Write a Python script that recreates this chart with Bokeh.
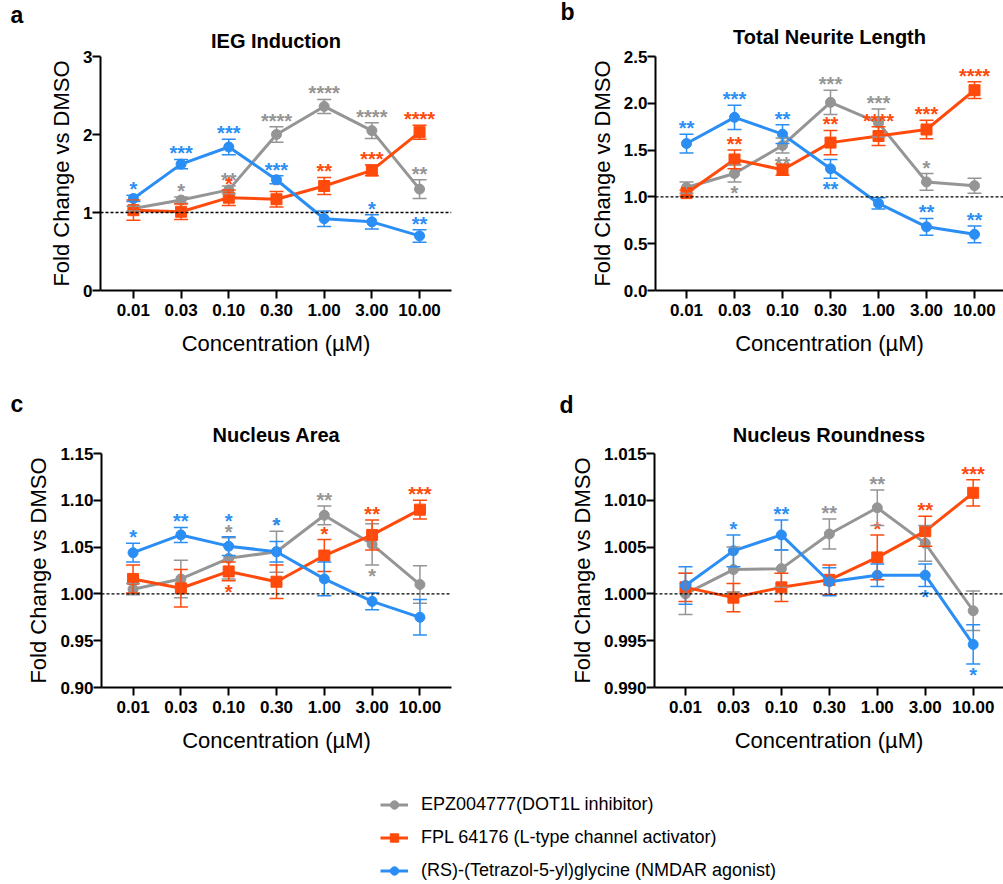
from bokeh.plotting import figure
from bokeh.models import (Range1d, FixedTicker, Whisker, TeeHead, ColumnDataSource,
                          Span, Title, Legend, LegendItem, PrintfTickFormatter)
from bokeh.layouts import column, row
from bokeh.embed import file_html
from bokeh.resources import INLINE
from bokeh.core.properties import value

# ---------------- data ----------------
concentrations = ["0.01", "0.03", "0.10", "0.30", "1.00", "3.00", "10.00"]

series_names = ["EPZ004777(DOT1L inhibitor)",
                "FPL 64176 (L-type channel activator)",
                "(RS)-(Tetrazol-5-yl)glycine (NMDAR agonist)"]

# a: IEG Induction
ieg_epz = [1.05, 1.16, 1.29, 2.00, 2.36, 2.05, 1.30]
ieg_epz_err = [0.03, 0.04, 0.05, 0.10, 0.09, 0.10, 0.12]
ieg_epz_sig = ["", "*", "**", "****", "****", "****", "**"]
ieg_fpl = [1.03, 1.01, 1.19, 1.17, 1.34, 1.54, 2.03]
ieg_fpl_err = [0.13, 0.10, 0.10, 0.10, 0.11, 0.07, 0.09]
ieg_fpl_sig = ["", "", "*", "*", "**", "***", "****"]
ieg_tzg = [1.18, 1.62, 1.84, 1.42, 0.92, 0.88, 0.70]
ieg_tzg_err = [0.04, 0.06, 0.10, 0.05, 0.10, 0.09, 0.08]
ieg_tzg_sig = ["*", "***", "***", "***", "", "*", "**"]

# b: Total Neurite Length
ntl_epz = [1.10, 1.25, 1.55, 2.01, 1.79, 1.16, 1.12]
ntl_epz_err = [0.06, 0.09, 0.08, 0.13, 0.15, 0.09, 0.08]
ntl_epz_sig = ["", "*", "**", "***", "***", "*", ""]
ntl_fpl = [1.04, 1.40, 1.29, 1.58, 1.65, 1.72, 2.14]
ntl_fpl_err = [0.03, 0.10, 0.06, 0.13, 0.10, 0.10, 0.09]
ntl_fpl_sig = ["", "**", "", "**", "****", "***", "****"]
ntl_tzg = [1.57, 1.85, 1.67, 1.30, 0.93, 0.68, 0.60]
ntl_tzg_err = [0.10, 0.13, 0.10, 0.10, 0.06, 0.09, 0.09]
ntl_tzg_sig = ["**", "***", "**", "**", "", "**", "**"]

# c: Nucleus Area
area_epz = [1.005, 1.016, 1.038, 1.045, 1.084, 1.053, 1.010]
area_epz_err = [0.006, 0.020, 0.022, 0.022, 0.010, 0.022, 0.020]
area_epz_sig = ["", "", "*", "*", "**", "*", ""]
area_fpl = [1.016, 1.006, 1.024, 1.013, 1.041, 1.063, 1.090]
area_fpl_err = [0.015, 0.020, 0.010, 0.018, 0.017, 0.016, 0.010]
area_fpl_sig = ["", "", "*", "", "*", "**", "***"]
area_tzg = [1.044, 1.063, 1.051, 1.045, 1.016, 0.992, 0.975]
area_tzg_err = [0.010, 0.008, 0.010, 0.011, 0.018, 0.009, 0.019]
area_tzg_sig = ["*", "**", "*", "*", "", "", ""]

# d: Nucleus Roundness
rnd_epz = [1.0000, 1.0026, 1.0027, 1.0064, 1.0092, 1.0054, 0.9982]
rnd_epz_err = [0.0022, 0.0024, 0.0020, 0.0016, 0.0019, 0.0019, 0.0021]
rnd_epz_sig = ["", "", "", "**", "**", "", ""]
rnd_fpl = [1.0007, 0.9996, 1.0007, 1.0015, 1.0039, 1.0067, 1.0108]
rnd_fpl_err = [0.0015, 0.0015, 0.0015, 0.0016, 0.0024, 0.0016, 0.0014]
rnd_fpl_sig = ["", "", "", "", "*", "**", "***"]
rnd_tzg = [1.0009, 1.0046, 1.0063, 1.0013, 1.0020, 1.0020, 0.9946]
rnd_tzg_err = [0.0020, 0.0017, 0.0016, 0.0015, 0.0012, 0.0012, 0.0021]
rnd_tzg_sig = ["", "*", "**", "", "", "*", "*"]

# ---------------- style / layout ----------------
FONT = "Liberation Sans"
COLORS = ["#959595", "#FF4A0C", "#2A8EF4"]
MARKERS = ["circle", "square", "circle"]
MSIZES = [10, 11, 10]
STAR_UP = -6      # pixel offset of stars above an error bar
STAR_DOWN = 11    # pixel offset of stars below an error bar
STAR_LIFT = 10    # extra lift for stacked stars

panels = [
    dict(letter="a", title="IEG Induction", yr=(0, 3), yticks=[0, 1, 2, 3], fmt="%d",
         series=[(ieg_epz, ieg_epz_err, ieg_epz_sig),
                 (ieg_fpl, ieg_fpl_err, ieg_fpl_sig),
                 (ieg_tzg, ieg_tzg_err, ieg_tzg_sig)],
         below=[[], [], []], lift=[{}, {}, {}],
         w=500, h=388, bl=100, br=49, bt=56, bb=98, xr=(-0.69, 6.67),
         letter_off=-90, title_so=6, letter_so=-7),
    dict(letter="b", title="Total Neurite Length", yr=(0, 2.5),
         yticks=[0, 0.5, 1.0, 1.5, 2.0, 2.5], fmt="%.1f",
         series=[(ntl_epz, ntl_epz_err, ntl_epz_sig),
                 (ntl_fpl, ntl_fpl_err, ntl_fpl_sig),
                 (ntl_tzg, ntl_tzg_err, ntl_tzg_sig)],
         below=[[1, 2], [], [3]], lift=[{}, {}, {}],
         w=503, h=388, bl=155, br=0, bt=56, bb=98, xr=(-0.646, 6.604),
         letter_off=-95, title_so=13, letter_so=-15),
    dict(letter="c", title="Nucleus Area", yr=(0.90, 1.15),
         yticks=[0.90, 0.95, 1.00, 1.05, 1.10, 1.15], fmt="%.2f",
         series=[(area_epz, area_epz_err, area_epz_sig),
                 (area_fpl, area_fpl_err, area_fpl_sig),
                 (area_tzg, area_tzg_err, area_tzg_sig)],
         below=[[5], [2], []], lift=[{}, {}, {2: 1, 3: 1}],
         w=500, h=388, bl=101, br=49, bt=65, bb=89, xr=(-0.66, 6.66),
         letter_off=-91, title_so=11, letter_so=-1),
    dict(letter="d", title="Nucleus Roundness", yr=(0.990, 1.015),
         yticks=[0.990, 0.995, 1.000, 1.005, 1.010, 1.015], fmt="%.3f",
         series=[(rnd_epz, rnd_epz_err, rnd_epz_sig),
                 (rnd_fpl, rnd_fpl_err, rnd_fpl_sig),
                 (rnd_tzg, rnd_tzg_err, rnd_tzg_sig)],
         below=[[], [], [5, 6]], lift=[{}, {}, {}],
         w=503, h=388, bl=154, br=0, bt=65, bb=89, xr=(-0.646, 6.632),
         letter_off=-95, title_so=11, letter_so=-3),
]


def blank(p):
    p.grid.visible = False
    p.outline_line_color = None
    p.background_fill_color = None
    p.border_fill_color = None


def style_axis(ax, standoff):
    ax.axis_line_width = 2
    ax.axis_line_color = "black"
    ax.major_tick_line_width = 2
    ax.major_tick_line_color = "black"
    ax.major_tick_out = 8
    ax.major_tick_in = 0
    ax.minor_tick_line_color = None
    ax.major_label_text_font = FONT
    ax.major_label_text_font_style = "bold"
    ax.major_label_text_font_size = "17px"
    ax.major_label_text_color = "black"
    ax.major_label_standoff = standoff
    ax.axis_label_text_font = FONT
    ax.axis_label_text_font_style = "normal"
    ax.axis_label_text_font_size = "22px"
    ax.axis_label_text_color = "black"


def make_panel(spec):
    p = figure(width=spec["w"], height=spec["h"],
               x_range=Range1d(*spec["xr"]), y_range=Range1d(*spec["yr"]),
               output_backend="svg", toolbar_location=None, title=None,
               min_border_left=spec["bl"], min_border_right=spec["br"],
               min_border_top=spec["bt"], min_border_bottom=spec["bb"])
    blank(p)
    # chart title (closest to the frame), then the panel letter above it
    p.add_layout(Title(text=spec["title"], align="center", vertical_align="top",
                       text_font=FONT, text_font_style="bold", text_font_size="20px",
                       text_color="black", standoff=spec["title_so"]), "above")
    p.add_layout(Title(text=spec["letter"], align="left", vertical_align="top",
                       offset=spec["letter_off"], text_font=FONT,
                       text_font_style="bold", text_font_size="23px",
                       text_color="black", standoff=spec["letter_so"]), "above")

    xa = p.xaxis[0]
    style_axis(xa, 5)
    xa.ticker = FixedTicker(ticks=list(range(len(concentrations))))
    xa.major_label_overrides = {i: c for i, c in enumerate(concentrations)}
    xa.axis_label = "Concentration (µM)"
    xa.axis_label_standoff = 12

    ya = p.yaxis[0]
    style_axis(ya, 0)
    ya.ticker = FixedTicker(ticks=spec["yticks"])
    ya.formatter = PrintfTickFormatter(format=spec["fmt"])
    ya.axis_label = "Fold Change vs DMSO"
    ya.axis_label_standoff = 6

    p.add_layout(Span(location=1, dimension="width", line_color="black",
                      line_dash="3 2", line_width=1.3))

    xs = list(range(len(concentrations)))
    for k, (vals, errs, sig) in enumerate(spec["series"]):
        c = COLORS[k]
        lo = [v - e for v, e in zip(vals, errs)]
        hi = [v + e for v, e in zip(vals, errs)]
        src = ColumnDataSource(dict(x=xs, y=vals, lo=lo, hi=hi))
        p.add_layout(Whisker(source=src, base="x", upper="hi", lower="lo",
                             line_color=c, line_width=1.5, level="glyph",
                             upper_head=TeeHead(size=14, line_color=c, line_width=1.5),
                             lower_head=TeeHead(size=14, line_color=c, line_width=1.5)))
        p.line("x", "y", source=src, line_color=c, line_width=3)
        p.scatter("x", "y", source=src, marker=MARKERS[k], size=MSIZES[k],
                  fill_color=c, line_color=c)
        # significance stars
        sx, sy, st, so = [], [], [], []
        for i, s in enumerate(sig):
            if not s:
                continue
            sx.append(xs[i])
            st.append(s)
            if i in spec["below"][k]:
                sy.append(lo[i])
                so.append(STAR_DOWN)
            else:
                sy.append(hi[i])
                so.append(STAR_UP - STAR_LIFT * spec["lift"][k].get(i, 0))
        ssrc = ColumnDataSource(dict(x=sx, y=sy, t=st, off=so))
        p.text("x", "y", text="t", source=ssrc, y_offset="off",
               text_color=c, text_font=value(FONT), text_font_size="20px",
               text_font_style="bold", text_align="center",
               text_baseline="alphabetic")
    return p


figs = [make_panel(s) for s in panels]

# legend figure
LEG_H = 107
pl = figure(width=1003, height=LEG_H, output_backend="svg", toolbar_location=None,
            title=None, x_range=Range1d(0, 1), y_range=Range1d(0, 1),
            min_border_left=0, min_border_right=0, min_border_top=0, min_border_bottom=0)
pl.axis.visible = False
blank(pl)
items = []
for k, name in enumerate(series_names):
    r1 = pl.line(x=[-5, -4], y=[-5, -4], line_color=COLORS[k], line_width=3)
    r2 = pl.scatter(x=[-5], y=[-5], marker=MARKERS[k], size=7,
                    fill_color=COLORS[k], line_color=COLORS[k])
    items.append(LegendItem(label=name, renderers=[r1, r2]))
leg = Legend(items=items, location=(380, 2), glyph_width=28, glyph_height=21,
             label_height=21, spacing=12, label_standoff=13, padding=0, margin=0,
             border_line_color=None, background_fill_alpha=0,
             label_text_font=FONT, label_text_font_size="18px",
             label_text_color="black")
pl.add_layout(leg)

layout = column(row(figs[0], figs[1]), row(figs[2], figs[3]), pl)
open("out.html", "w").write(file_html(layout, INLINE))
